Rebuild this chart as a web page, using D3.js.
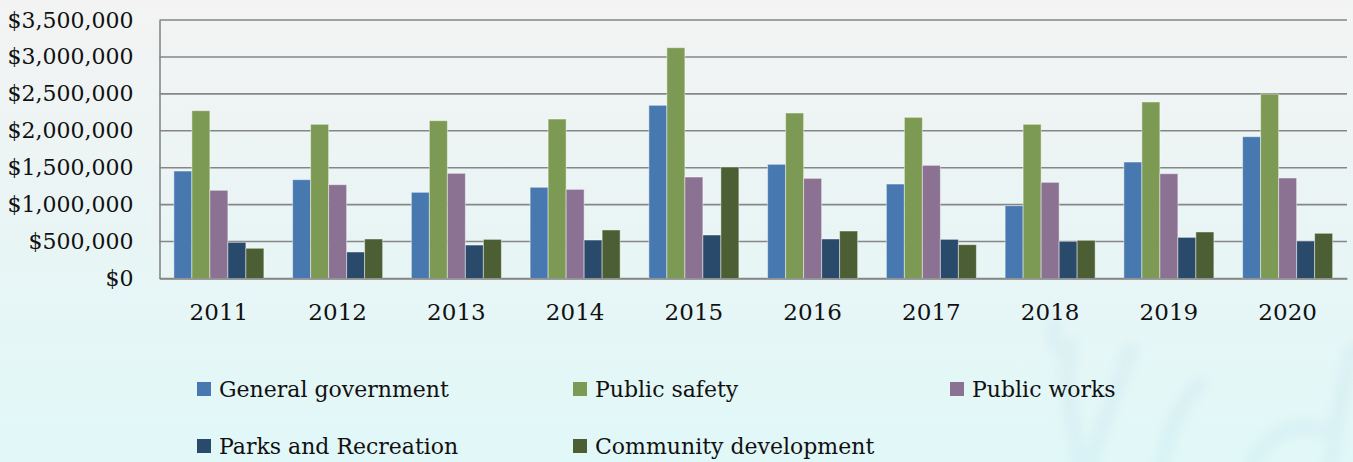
<!DOCTYPE html>
<html>
<head>
<meta charset="utf-8">
<script src="https://cdn.jsdelivr.net/npm/d3@7"></script>
<style>
  html, body { margin: 0; padding: 0; }
  body { width: 1353px; height: 462px; overflow: hidden; }
  text { font-family: "DejaVu Serif", serif; fill: #111; }
</style>
</head>
<body>
<div id="chart"></div>
<script>
// data
var years = ["2011", "2012", "2013", "2014", "2015", "2016", "2017", "2018", "2019", "2020"];
var seriesNames = ["General government", "Public safety", "Public works", "Parks and Recreation", "Community development"];
var generalGov = [1455000, 1338000, 1167000, 1235000, 2345000, 1546000, 1279000, 986000, 1577000, 1920000];
var publicSafety = [2272000, 2088000, 2137000, 2159000, 3125000, 2241000, 2182000, 2088000, 2390000, 2498000];
var publicWorks = [1194000, 1270000, 1424000, 1207000, 1374000, 1356000, 1532000, 1302000, 1419000, 1361000];
var parksRec = [490000, 359000, 453000, 521000, 589000, 535000, 530000, 503000, 557000, 508000];
var communityDev = [409000, 535000, 530000, 657000, 1510000, 643000, 458000, 517000, 630000, 612000];
var yTicks = [0, 500000, 1000000, 1500000, 2000000, 2500000, 3000000, 3500000];

var seriesValues = [generalGov, publicSafety, publicWorks, parksRec, communityDev];
var colors = ["#4779b0", "#7d9a54", "#8b7293", "#2a4a6c", "#4b5e34"];

var width = 1353, height = 462;
var plotLeft = 159.5, plotRight = 1347, plotTop = 20, plotBottom = 278.5;

var svg = d3.select("#chart").append("svg")
  .attr("width", width)
  .attr("height", height);

// background
var defs = svg.append("defs");
var grad = defs.append("linearGradient")
  .attr("id", "bg").attr("x1", 0).attr("y1", 0).attr("x2", 0).attr("y2", 1);
grad.append("stop").attr("offset", "0%").attr("stop-color", "#f3f3f3");
grad.append("stop").attr("offset", "55%").attr("stop-color", "#e8f5f5");
grad.append("stop").attr("offset", "100%").attr("stop-color", "#e1f8f8");
var blur = defs.append("filter").attr("id", "soft");
blur.append("feGaussianBlur").attr("stdDeviation", 5);

svg.append("rect").attr("width", width).attr("height", height).attr("fill", "url(#bg)");

// faint coral decoration, bottom right
var coral = svg.append("g").attr("filter", "url(#soft)").attr("opacity", 0.13)
  .attr("fill", "none").attr("stroke", "#9ccbe0").attr("stroke-linecap", "round");
var branches = [
  "M1080,470 C1075,420 1060,380 1070,345",
  "M1090,470 C1100,420 1120,390 1130,350",
  "M1160,470 C1170,430 1180,400 1200,385",
  "M1250,470 C1260,440 1290,420 1320,430",
  "M1330,470 C1335,420 1345,380 1353,350",
  "M1070,360 C1055,345 1050,335 1055,325"
];
coral.selectAll("path").data(branches).enter().append("path")
  .attr("d", function(d) { return d; })
  .attr("stroke-width", 16);

var x0 = d3.scaleBand()
  .domain(years)
  .range([plotLeft, plotRight])
  .paddingInner(0.242)
  .paddingOuter(0.121);

var x1 = d3.scaleBand()
  .domain(d3.range(seriesNames.length))
  .range([0, x0.bandwidth()]);

var y = d3.scaleLinear()
  .domain([0, 3500000])
  .range([plotBottom, plotTop]);

// gridlines
svg.append("g").selectAll("line").data(yTicks).enter().append("line")
  .attr("x1", plotLeft).attr("x2", plotRight)
  .attr("y1", function(d) { return y(d); })
  .attr("y2", function(d) { return y(d); })
  .attr("stroke", "#868686")
  .attr("stroke-width", 1.6);

// y axis labels
var fmt = d3.format("$,");
var yAxis = d3.axisLeft(y).tickValues(yTicks).tickSize(0).tickPadding(26)
  .tickFormat(function(d) { return fmt(d); });
var yg = svg.append("g").attr("transform", "translate(" + plotLeft + ",0)").call(yAxis);
yg.select(".domain").attr("stroke", "#868686").attr("stroke-width", 1.6);
yg.selectAll("text").style("font-size", "22px").attr("fill", "#111")
  .style("font-family", "DejaVu Serif, serif");

// bars
var groups = svg.append("g").selectAll("g").data(years).enter().append("g")
  .attr("transform", function(d) { return "translate(" + x0(d) + ",0)"; });

groups.selectAll("rect")
  .data(function(d, i) { return seriesValues.map(function(s, k) { return { k: k, v: s[i] }; }); })
  .enter().append("rect")
  .attr("x", function(d) { return x1(d.k); })
  .attr("width", x1.bandwidth())
  .attr("y", function(d) { return y(d.v); })
  .attr("height", function(d) { return plotBottom - y(d.v); })
  .attr("fill", function(d) { return colors[d.k]; })
  .attr("stroke", "rgba(255,255,255,0.45)")
  .attr("stroke-width", 1);

// x axis
var xAxis = d3.axisBottom(x0).tickSize(0).tickPadding(25);
var xg = svg.append("g").attr("transform", "translate(0," + plotBottom + ")").call(xAxis);
xg.select(".domain").attr("stroke", "#868686").attr("stroke-width", 1.6);
xg.selectAll("text").style("font-size", "23px").attr("fill", "#111")
  .style("font-family", "DejaVu Serif, serif");

// legend
var legendPos = [[197, 382], [573, 382], [950, 382], [197, 439], [573, 439]];
var legend = svg.append("g").selectAll("g").data(seriesNames).enter().append("g")
  .attr("transform", function(d, i) { return "translate(" + legendPos[i][0] + "," + legendPos[i][1] + ")"; });
legend.append("rect")
  .attr("width", 14).attr("height", 14)
  .attr("fill", function(d, i) { return colors[i]; });
legend.append("text")
  .attr("x", 22).attr("y", 15)
  .style("font-size", "22px")
  .text(function(d) { return d; });
</script>
</body>
</html>
